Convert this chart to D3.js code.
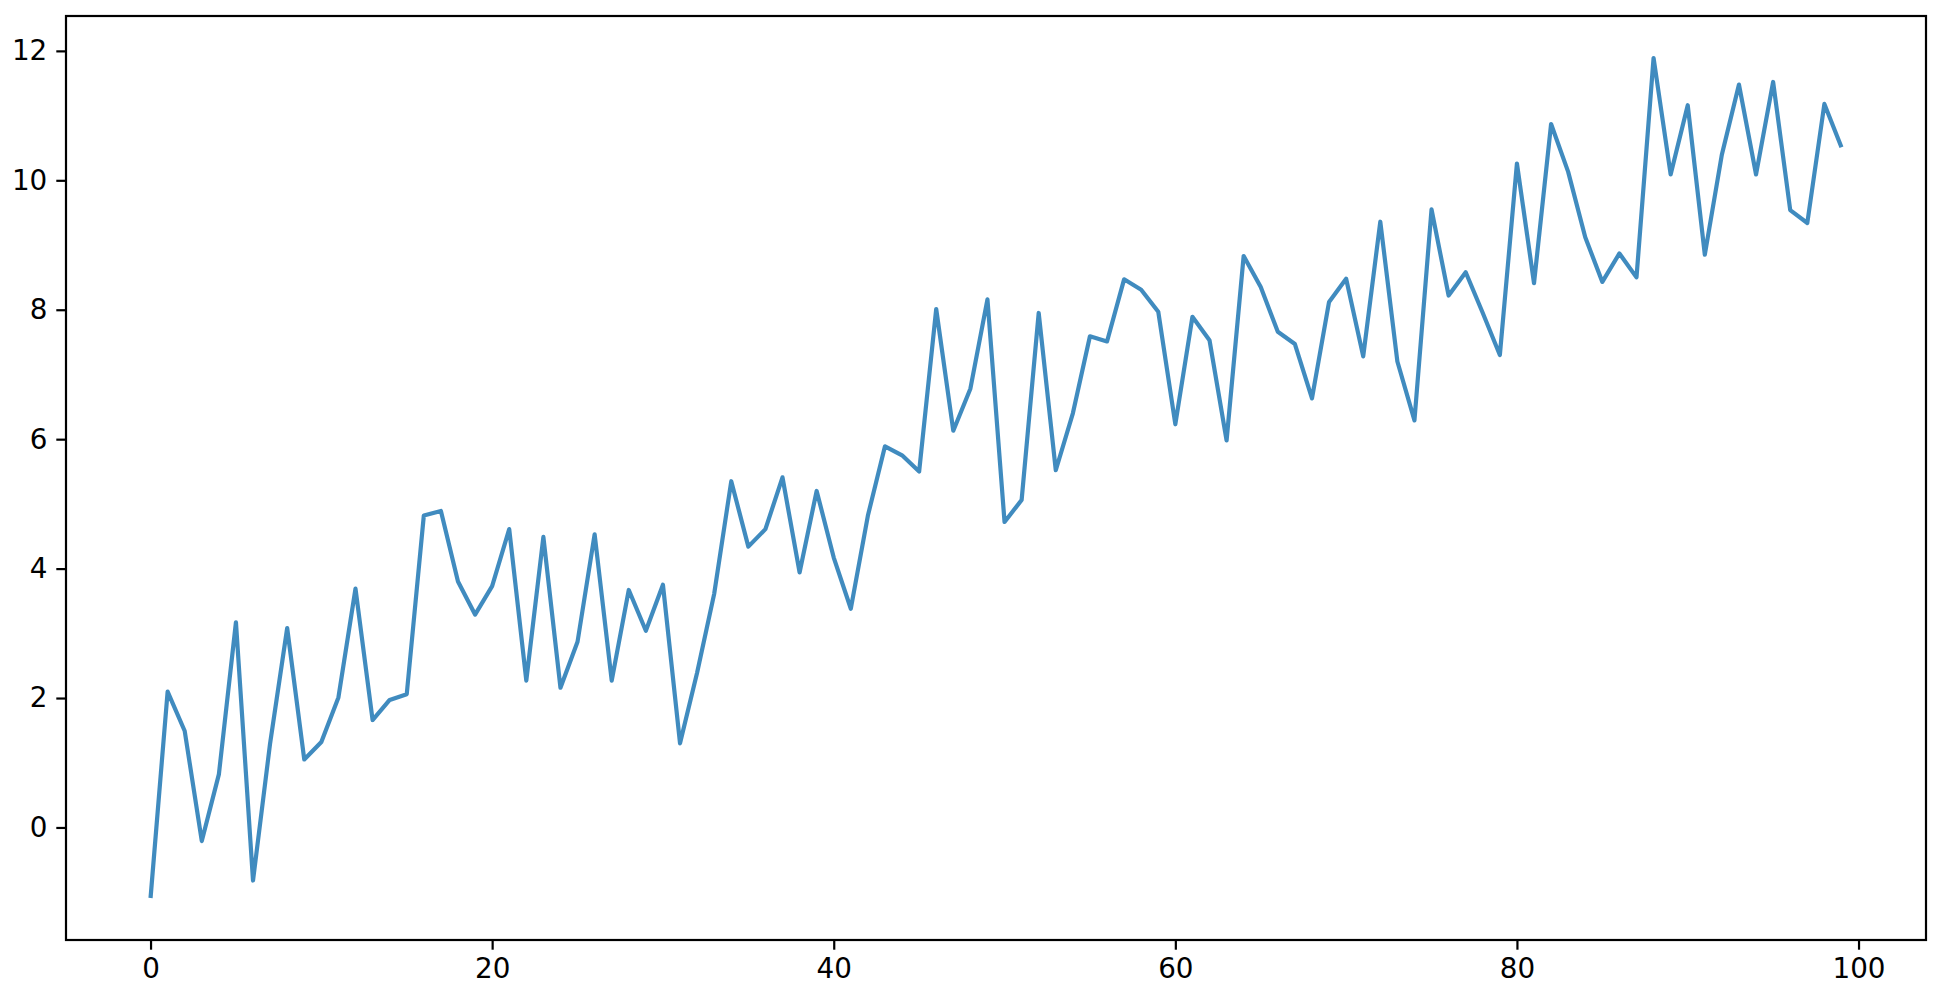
<!DOCTYPE html>
<html>
<head>
<meta charset="utf-8">
<script src="https://cdn.jsdelivr.net/npm/d3@7"></script>
<style>
  body { margin: 0; background: #fff; }
  svg text { font-family: "DejaVu Sans", sans-serif; }
</style>
</head>
<body>
<div id="chart-container"></div>
<script>
// series values, index 0..99
const yValues = [
  -1.09, 2.10, 1.49, -0.21, 0.82, 3.17, -0.82, 1.30, 3.08, 1.05,
  1.32, 2.01, 3.69, 1.66, 1.97, 2.06, 4.82, 4.89, 3.80, 3.29,
  3.73, 4.61, 2.27, 4.49, 2.16, 2.87, 4.53, 2.27, 3.67, 3.04,
  3.75, 1.30, 2.39, 3.61, 5.35, 4.34, 4.61, 5.41, 3.94, 5.20,
  4.17, 3.38, 4.82, 5.89, 5.75, 5.50, 8.01, 6.13, 6.78, 8.16,
  4.72, 5.06, 7.95, 5.52, 6.40, 7.59, 7.51, 8.47, 8.31, 7.97,
  6.23, 7.89, 7.53, 5.98, 8.83, 8.35, 7.66, 7.47, 6.63, 8.12,
  8.48, 7.28, 9.36, 7.20, 6.29, 9.55, 8.22, 8.58, 7.95, 7.30,
  10.26, 8.41, 10.87, 10.13, 9.12, 8.43, 8.87, 8.50, 11.89, 10.09,
  11.16, 8.85, 10.40, 11.48, 10.09, 11.52, 9.54, 9.34, 11.18, 10.51
];
const xValues = yValues.map((d, i) => i);
const xTicks = [0, 20, 40, 60, 80, 100];
const yTicks = [0, 2, 4, 6, 8, 10, 12];

let spec = {
  width: 1940,
  height: 998,
  margin: { top: 16, right: 14, bottom: 58, left: 66 }
}

let df = xValues.map((x, i) => ({ x: x, y: yValues[i] }));

var margin = spec.margin,
  width = spec.width - margin.left - margin.right,
  height = spec.height - margin.top - margin.bottom;

var svg = d3.select('#chart-container')
  .append("svg")
  .attr("width", spec.width)
  .attr("height", spec.height)
  .append("g")
  .attr("transform", "translate(" + margin.left + "," + margin.top + ")");

// matplotlib-style 5% padding around the data
let xExt = d3.extent(xValues), yExt = d3.extent(yValues);
let xPad = (xExt[1] - xExt[0]) * 0.05, yPad = (yExt[1] - yExt[0]) * 0.05;

var x = d3.scaleLinear()
  .domain([xExt[0] - xPad, xExt[1] + xPad])
  .range([0, width]);

var y = d3.scaleLinear()
  .domain([yExt[0] - yPad, yExt[1] + yPad])
  .range([height, 0]);

var xAxis = svg.append("g")
  .attr("transform", "translate(0," + height + ")")
  .call(d3.axisBottom(x).tickValues(xTicks).tickFormat(d3.format("d"))
    .tickSizeInner(9.7).tickSizeOuter(0).tickPadding(9));

var yAxis = svg.append("g")
  .call(d3.axisLeft(y).tickValues(yTicks).tickFormat(d3.format("d"))
    .tickSizeInner(9.7).tickSizeOuter(0).tickPadding(9));

[xAxis, yAxis].forEach(function (a) {
  a.select(".domain").remove();
  a.selectAll(".tick line").attr("stroke", "#000").attr("stroke-width", 2.2);
  a.selectAll(".tick text").attr("fill", "#000").style("font-size", "27.8px");
});

svg.append("path")
  .datum(df)
  .attr("fill", "none")
  .attr("stroke", "#1f77b4")
  .attr("stroke-opacity", 0.85)
  .attr("stroke-width", 4.2)
  .attr("stroke-linejoin", "round")
  .attr("d", d3.line()
    .x(function (d) { return x(d.x) })
    .y(function (d) { return y(d.y) })
  );

// frame
svg.append("rect")
  .attr("width", width)
  .attr("height", height)
  .attr("fill", "none")
  .attr("stroke", "#000")
  .attr("stroke-width", 2.2);
</script>
</body>
</html>
